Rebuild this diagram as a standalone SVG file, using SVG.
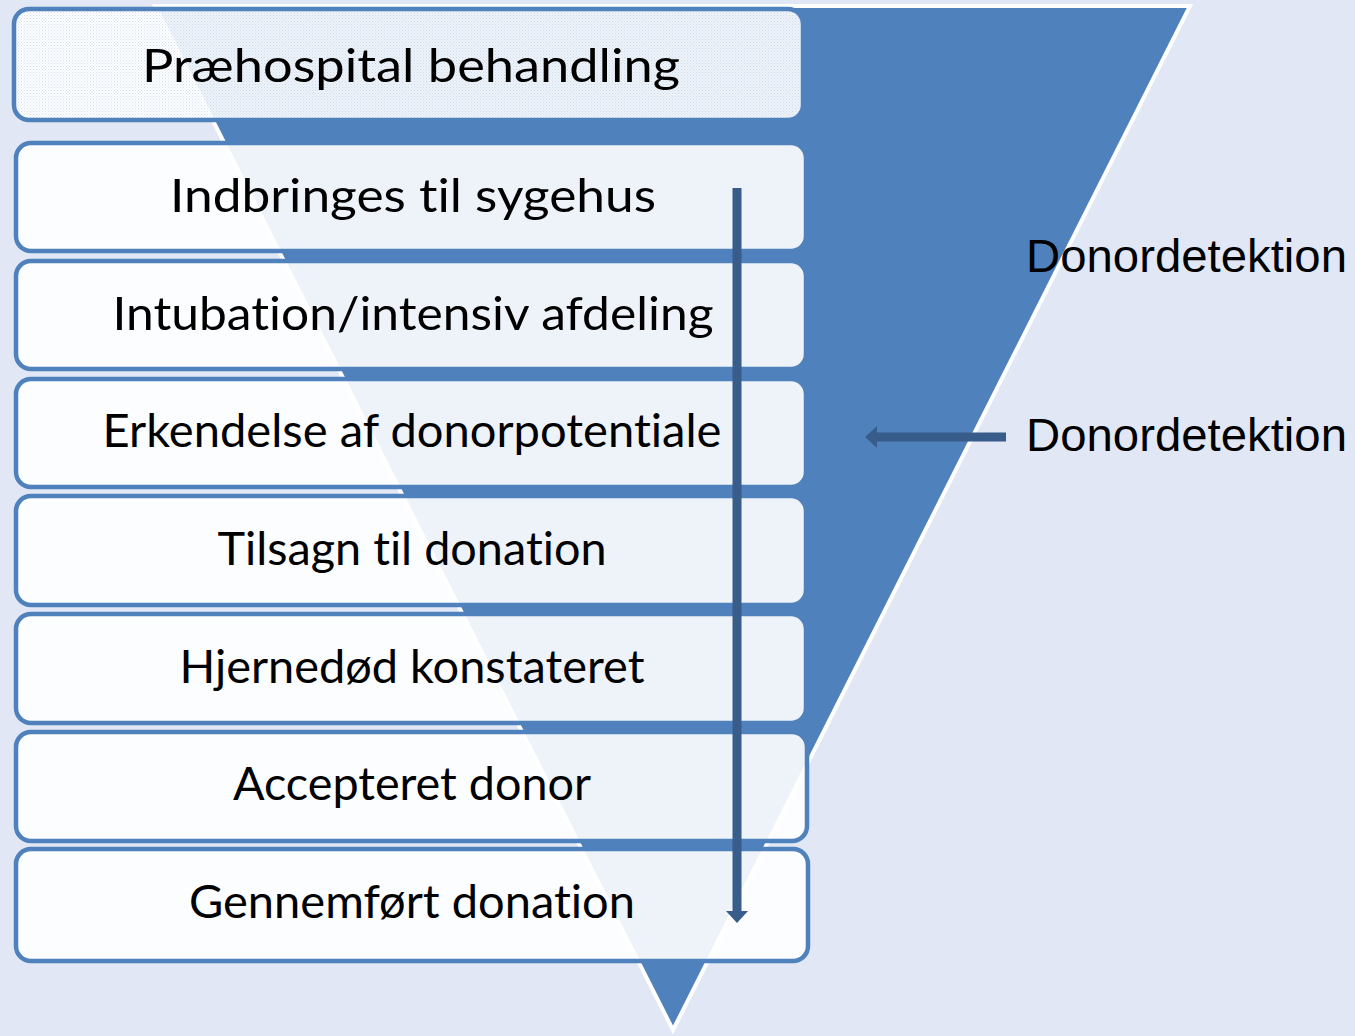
<svg xmlns="http://www.w3.org/2000/svg" width="1355" height="1036" viewBox="0 0 1355 1036">
<style>
.box{fill:#ffffff;fill-opacity:0.9;stroke:#4f81bd;stroke-width:4.5}
.lbl{font-family:Lato,"Open Sans","Liberation Sans",sans-serif;font-size:47px;fill:#000;text-anchor:middle;font-variant-ligatures:none;font-feature-settings:"liga" 0,"clig" 0}
.side{font-family:"Liberation Sans",Arial,sans-serif;font-size:47px;fill:#000}
.conn{stroke:#385d8a;stroke-width:9;fill:none}
</style>
<defs>
<pattern id="dots" width="3" height="3" patternUnits="userSpaceOnUse">
<rect x="0" y="0" width="1" height="1" fill="#4f81bd" fill-opacity="0.22"/>
<rect x="1.5" y="1.5" width="1" height="1" fill="#4f81bd" fill-opacity="0.15"/>
</pattern>
</defs>
<rect x="0" y="0" width="1355" height="1036" fill="#e1e7f4"/>
<g id="funnel">
<polygon points="155,6 1190,6 673,1030" fill="#4f81bd" stroke="#ffffff" stroke-width="4" stroke-linejoin="miter"/>
</g>
<g id="n1">
<rect class="box" x="14" y="9" width="789" height="111" rx="15"/>
<rect x="16" y="11" width="785" height="107" rx="13" fill="url(#dots)"/>
<text class="lbl" x="411" y="82" textLength="538" lengthAdjust="spacingAndGlyphs">Præhospital behandling</text>
</g>
<g id="n2">
<rect class="box" x="16" y="143" width="790" height="108" rx="15"/>
<text class="lbl" x="413" y="212" textLength="486" lengthAdjust="spacingAndGlyphs">Indbringes til sygehus</text>
</g>
<g id="n3">
<rect class="box" x="16" y="261" width="790" height="108" rx="15"/>
<text class="lbl" x="413" y="330" textLength="601" lengthAdjust="spacingAndGlyphs">Intubation/intensiv afdeling</text>
</g>
<g id="n4">
<rect class="box" x="16" y="379" width="790" height="108" rx="15"/>
<text class="lbl" x="412" y="447" textLength="619" lengthAdjust="spacingAndGlyphs">Erkendelse af donorpotentiale</text>
</g>
<g id="n5">
<rect class="box" x="16" y="496" width="790" height="109" rx="15"/>
<text class="lbl" x="412" y="565" textLength="389" lengthAdjust="spacingAndGlyphs">Tilsagn til donation</text>
</g>
<g id="n6">
<rect class="box" x="16" y="614" width="790" height="109" rx="15"/>
<text class="lbl" x="412" y="683" textLength="465" lengthAdjust="spacingAndGlyphs">Hjernedød konstateret</text>
</g>
<g id="n7">
<rect class="box" x="16" y="732" width="791" height="109" rx="15"/>
<text class="lbl" x="412" y="800" textLength="358" lengthAdjust="spacingAndGlyphs">Accepteret donor</text>
</g>
<g id="n8">
<rect class="box" x="16" y="849" width="792" height="112" rx="15"/>
<text class="lbl" x="412" y="918" textLength="446" lengthAdjust="spacingAndGlyphs">Gennemført donation</text>
</g>
<g id="labels">
<text class="side" x="1026" y="272" textLength="321" lengthAdjust="spacingAndGlyphs">Donordetektion</text>
<text class="side" x="1026" y="451" textLength="321" lengthAdjust="spacingAndGlyphs">Donordetektion</text>
</g>
<g id="connectors">
<line class="conn" x1="737" y1="188" x2="737" y2="911"/>
<polygon points="726,911 748,911 737,923" fill="#385d8a"/>
<line class="conn" x1="1006" y1="437" x2="876" y2="437"/>
<polygon points="877,426 877,448 865,437" fill="#385d8a"/>
</g>
</svg>
